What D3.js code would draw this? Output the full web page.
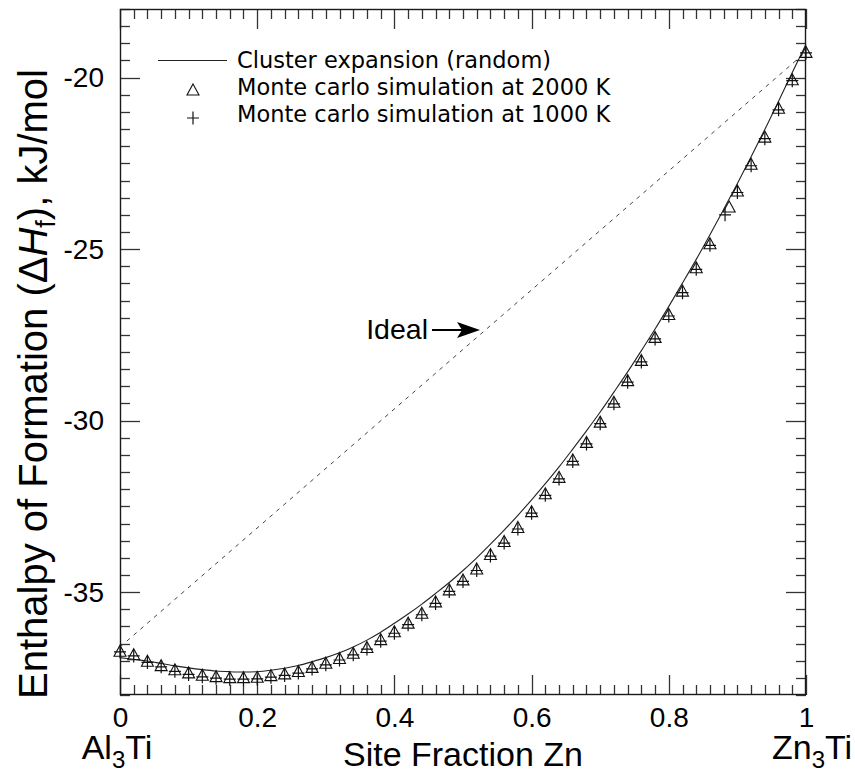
<!DOCTYPE html>
<html lang="en">
<head>
  <meta charset="UTF-8">
  <title>Enthalpy of Formation vs Site Fraction Zn</title>
  <script src="https://d3js.org/d3.v7.min.js"></script>
  <style>
    body {
      margin: 0;
      background: #fff;
    }
    svg {
      display: block;
    }
    .tick text {
      font-family: "Liberation Sans", Arial, sans-serif;
      font-size: 28px;
      fill: #000;
    }
    .legend text {
      font-family: "DejaVu Sans", sans-serif;
      font-size: 22.5px;
      fill: #000;
    }
  </style>
</head>
<body>
  <svg id="chart" width="855" height="777"></svg>

  <script>
    // Site fraction of Zn (x values) for the cluster expansion curve.
    const siteFraction = [
      0.00, 0.02, 0.04, 0.06, 0.08, 0.10, 0.12, 0.14, 0.16, 0.18,
      0.20, 0.22, 0.24, 0.26, 0.28, 0.30, 0.32, 0.34, 0.36, 0.38,
      0.40, 0.42, 0.44, 0.46, 0.48, 0.50, 0.52, 0.54, 0.56, 0.58,
      0.60, 0.62, 0.64, 0.66, 0.68, 0.70, 0.72, 0.74, 0.76, 0.78,
      0.80, 0.82, 0.84, 0.86, 0.88, 0.90, 0.92, 0.94, 0.96, 0.98,
      1.00
    ];

    // Cluster expansion (random), kJ/mol.
    const clusterH = [
      -36.91, -36.96, -37.01, -37.08, -37.15, -37.21, -37.26, -37.30, -37.32, -37.33,
      -37.32, -37.28, -37.22, -37.14, -37.03, -36.91, -36.77, -36.60, -36.40, -36.17,
      -35.91, -35.64, -35.35, -35.04, -34.72, -34.37, -34.00, -33.60, -33.19, -32.76,
      -32.31, -31.84, -31.35, -30.83, -30.30, -29.75, -29.17, -28.58, -27.96, -27.33,
      -26.67, -25.99, -25.30, -24.58, -23.84, -23.09, -22.31, -21.51, -20.69, -19.85,
      -19.03
    ];

    // Monte carlo simulation at 2000 K.
    const mc2000X = [
      0.00, 0.02, 0.04, 0.06, 0.08, 0.10, 0.12, 0.14, 0.16, 0.18,
      0.20, 0.22, 0.24, 0.26, 0.28, 0.30, 0.32, 0.34, 0.36, 0.38,
      0.40, 0.42, 0.44, 0.46, 0.48, 0.50, 0.52, 0.54, 0.56, 0.58,
      0.60, 0.62, 0.64, 0.66, 0.68, 0.70, 0.72, 0.74, 0.76, 0.78,
      0.80, 0.82, 0.84, 0.86, 0.888, 0.90, 0.92, 0.94, 0.96, 0.98,
      1.00
    ];
    const mc2000H = [
      -36.71, -36.81, -37.00, -37.13, -37.25, -37.34, -37.41, -37.45, -37.48, -37.48,
      -37.47, -37.42, -37.37, -37.30, -37.18, -37.06, -36.92, -36.77, -36.60, -36.37,
      -36.14, -35.89, -35.60, -35.27, -34.92, -34.63, -34.31, -33.89, -33.51, -33.10,
      -32.64, -32.12, -31.64, -31.13, -30.62, -30.03, -29.45, -28.82, -28.23, -27.56,
      -26.89, -26.21, -25.53, -24.83, -23.76, -23.29, -22.51, -21.72, -20.88, -20.05,
      -19.25
    ];

    // Monte carlo simulation at 1000 K.
    const mc1000X = [
      0.00, 0.02, 0.04, 0.06, 0.08, 0.10, 0.12, 0.14, 0.16, 0.18,
      0.20, 0.22, 0.24, 0.26, 0.28, 0.30, 0.32, 0.34, 0.36, 0.38,
      0.40, 0.42, 0.44, 0.46, 0.48, 0.50, 0.52, 0.54, 0.56, 0.58,
      0.60, 0.62, 0.64, 0.66, 0.68, 0.70, 0.72, 0.74, 0.76, 0.78,
      0.80, 0.82, 0.84, 0.86, 0.882, 0.90, 0.92, 0.94, 0.96, 0.98,
      1.00
    ];
    const mc1000H = [
      -36.74, -36.86, -37.05, -37.18, -37.31, -37.40, -37.47, -37.51, -37.54, -37.54,
      -37.53, -37.48, -37.43, -37.36, -37.24, -37.12, -36.98, -36.83, -36.66, -36.43,
      -36.20, -35.95, -35.66, -35.33, -34.98, -34.69, -34.37, -33.95, -33.57, -33.16,
      -32.70, -32.18, -31.70, -31.19, -30.68, -30.09, -29.51, -28.88, -28.29, -27.62,
      -26.95, -26.27, -25.59, -24.89, -24.00, -23.35, -22.57, -21.78, -20.94, -20.09,
      -19.28
    ];

    // Ideal (linear mixing) between the end members.
    const idealX = [0, 1];
    const idealH = [-36.60, -19.25];

    // Axis ticks and labels.
    const xMajorTicks = [0, 0.2, 0.4, 0.6, 0.8, 1];
    const xTickLabels = ["0", "0.2", "0.4", "0.6", "0.8", "1"];
    const yMajorTicks = [-35, -30, -25, -20];
    const yTickLabels = ["-35", "-30", "-25", "-20"];

    const legendLabels = [
      "Cluster expansion (random)",
      "Monte carlo simulation at 2000 K",
      "Monte carlo simulation at 1000 K"
    ];

    const svg = d3.select("#chart");
    const margin = { top: 9, right: 49, bottom: 82, left: 120 };
    const plotW = 855 - margin.left - margin.right;   // 686
    const plotH = 777 - margin.top - margin.bottom;   // 686

    const g = svg.append("g")
                 .attr("transform", `translate(${margin.left},${margin.top})`);

    const x = d3.scaleLinear().domain([0, 1]).range([0, plotW]);
    const y = d3.scaleLinear().domain([-38, -18]).range([plotH, 0]);

    const xMinor = d3.range(0, 1.0001, 0.02).map(v => +v.toFixed(2));
    const yMinor = d3.range(-38, -17.999, 0.5);

    // Inward ticks on all four sides, snapped to the pixel grid.
    const snap = v => Math.round(v) + 0.5;
    const xMajorLen = d => xMajorTicks.some(t => Math.abs(t - d) < 1e-6) ? 20 : 10;
    const yMajorLen = d => yMajorTicks.some(t => Math.abs(t - d) < 1e-6) ? 20 : 10;

    const tickG = g.append("g")
                   .attr("fill", "none")
                   .attr("stroke", "#333")
                   .attr("stroke-width", 1.3);

    tickG.selectAll("line.xb")
     .data(xMinor)
     .enter().append("line")
     .attr("class", "xb")
     .attr("x1", d => snap(x(d))).attr("x2", d => snap(x(d)))
     .attr("y1", plotH).attr("y2", d => plotH - xMajorLen(d));
    tickG.selectAll("line.xt")
     .data(xMinor)
     .enter().append("line")
     .attr("class", "xt")
     .attr("x1", d => snap(x(d))).attr("x2", d => snap(x(d)))
     .attr("y1", 0).attr("y2", d => xMajorLen(d));
    tickG.selectAll("line.yl")
     .data(yMinor)
     .enter().append("line")
     .attr("class", "yl")
     .attr("y1", d => snap(y(d))).attr("y2", d => snap(y(d)))
     .attr("x1", 0).attr("x2", d => yMajorLen(d));
    tickG.selectAll("line.yr")
     .data(yMinor)
     .enter().append("line")
     .attr("class", "yr")
     .attr("y1", d => snap(y(d))).attr("y2", d => snap(y(d)))
     .attr("x1", plotW).attr("x2", d => plotW - yMajorLen(d));

    // Tick labels via the axis generators (tick marks hidden).
    const xAxis = g.append("g")
     .attr("transform", `translate(0,${plotH})`)
     .call(d3.axisBottom(x).tickValues(xMajorTicks).tickSize(0).tickPadding(12)
             .tickFormat((d, i) => xTickLabels[i]));
    xAxis.select(".domain").remove();

    const yAxis = g.append("g")
     .call(d3.axisLeft(y).tickValues(yMajorTicks).tickSize(0).tickPadding(16)
             .tickFormat((d, i) => yTickLabels[i]));
    yAxis.select(".domain").remove();

    // Frame.
    g.append("rect")
     .attr("x", 0.5)
     .attr("y", 0.5)
     .attr("width", plotW - 1)
     .attr("height", plotH - 1)
     .attr("fill", "none")
     .attr("stroke", "#1a1a1a")
     .attr("stroke-width", 1.4);

    // Ideal dashed line.
    const ideal = idealX.map((v, i) => [v, idealH[i]]);
    g.append("path")
     .datum(ideal)
     .attr("d", d3.line().x(d => x(d[0])).y(d => y(d[1])))
     .attr("fill", "none")
     .attr("stroke", "#444")
     .attr("stroke-width", 1)
     .attr("stroke-dasharray", "4,5");

    // Cluster expansion curve.
    const cluster = siteFraction.map((v, i) => [v, clusterH[i]]);
    g.append("path")
     .datum(cluster)
     .attr("d", d3.line().x(d => x(d[0])).y(d => y(d[1])).curve(d3.curveMonotoneX))
     .attr("fill", "none")
     .attr("stroke", "#222")
     .attr("stroke-width", 1.1);

    // Symbol shapes.
    const triPath = "M0,-5.5L6,5.5L-6,5.5Z";
    const plusPath = "M-6,0H6M0,-6.5V6.5";

    const mc2000 = mc2000X.map((v, i) => [v, mc2000H[i]]);
    g.append("g").selectAll("path")
     .data(mc2000)
     .enter().append("path")
     .attr("transform", d => `translate(${x(d[0])},${y(d[1])})`)
     .attr("d", triPath)
     .attr("fill", "none")
     .attr("stroke", "#111")
     .attr("stroke-width", 1.1);

    const mc1000 = mc1000X.map((v, i) => [v, mc1000H[i]]);
    g.append("g").selectAll("path")
     .data(mc1000)
     .enter().append("path")
     .attr("transform", d => `translate(${x(d[0])},${y(d[1])})`)
     .attr("d", plusPath)
     .attr("fill", "none")
     .attr("stroke", "#111")
     .attr("stroke-width", 1.2);

    // "Ideal" annotation with arrow.
    svg.append("text")
       .attr("x", 428)
       .attr("y", 339)
       .attr("text-anchor", "end")
       .style("font-family", "'Liberation Sans', Arial, sans-serif")
       .style("font-size", "28.5px")
       .text("Ideal");
    svg.append("line")
       .attr("x1", 432).attr("y1", 330)
       .attr("x2", 466).attr("y2", 330)
       .attr("stroke", "#000")
       .attr("stroke-width", 2.2);
    svg.append("path")
       .attr("d", "M480,330L457,322L462,330L457,338Z")
       .attr("fill", "#000");

    // Legend.
    const legend = svg.append("g").attr("class", "legend");
    const rowY = [68, 95, 122];
    legend.append("line")
          .attr("x1", 158).attr("x2", 227)
          .attr("y1", 60.5).attr("y2", 60.5)
          .attr("stroke", "#222")
          .attr("stroke-width", 1.1);
    legend.append("path")
          .attr("transform", "translate(193,89.5)")
          .attr("d", triPath)
          .attr("fill", "none")
          .attr("stroke", "#111")
          .attr("stroke-width", 1.1);
    legend.append("path")
          .attr("transform", "translate(193,118)")
          .attr("d", plusPath)
          .attr("fill", "none")
          .attr("stroke", "#111")
          .attr("stroke-width", 1.2);
    legend.selectAll("text")
          .data(legendLabels)
          .enter().append("text")
          .attr("x", 237)
          .attr("y", (d, i) => rowY[i])
          .text(d => d);

    // End member labels.
    const endFont = "'Liberation Sans', Arial, sans-serif";
    function endMember(cx, first) {
      const t = svg.append("text")
        .attr("x", cx)
        .attr("y", 759)
        .attr("text-anchor", "middle")
        .style("font-family", endFont)
        .style("font-size", "34px");
      t.append("tspan").text(first);
      t.append("tspan").attr("dy", 9).style("font-size", "24px").text("3");
      t.append("tspan").attr("dy", -9).text("Ti");
    }
    endMember(117, "Al");
    endMember(812, "Zn");

    // Axis titles.
    svg.append("text")
       .attr("x", margin.left + plotW / 2)
       .attr("y", 766)
       .attr("text-anchor", "middle")
       .style("font-family", endFont)
       .style("font-size", "34px")
       .text("Site Fraction Zn");

    const yTitle = svg.append("text")
       .attr("transform", "translate(47,384) rotate(-90)")
       .attr("text-anchor", "middle")
       .style("font-family", endFont)
       .style("font-size", "40px");
    yTitle.append("tspan").text("Enthalpy of Formation (\u0394");
    yTitle.append("tspan").style("font-style", "italic").text("H");
    yTitle.append("tspan").attr("dy", 8).style("font-size", "27px").text("f");
    yTitle.append("tspan").attr("dy", -8).text("), kJ/mol");
  </script>
</body>
</html>
